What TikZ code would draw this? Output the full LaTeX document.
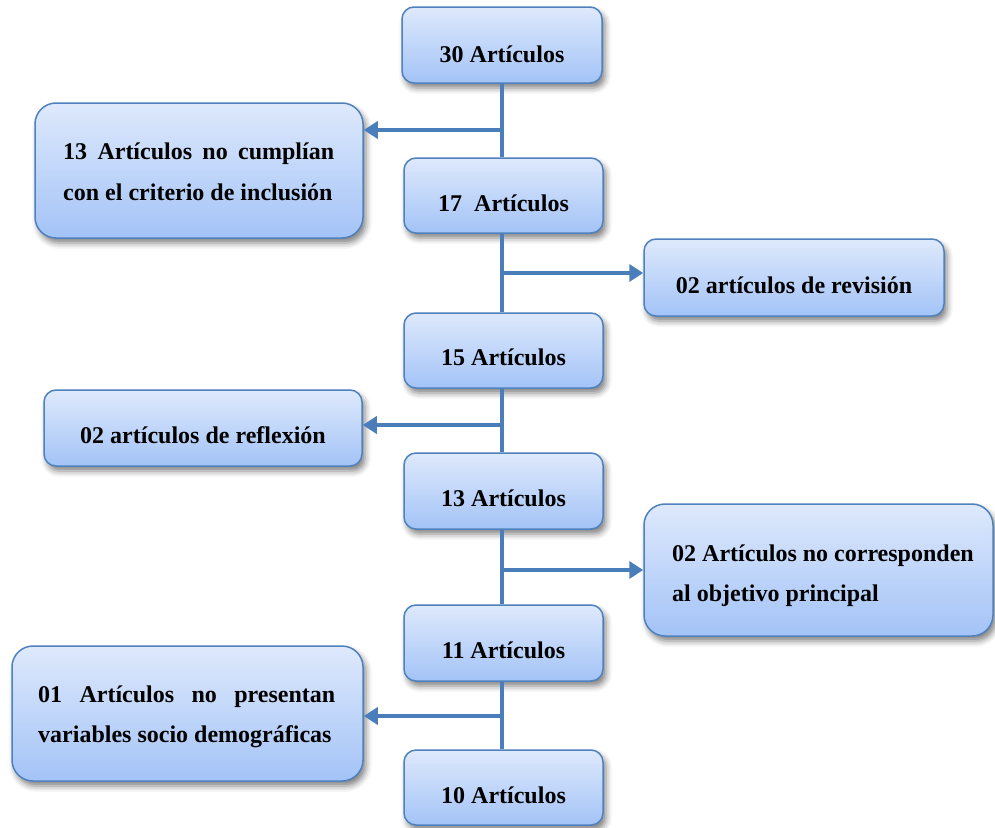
\documentclass[tikz,border=0pt]{standalone}
\usepackage{fontspec}
\setmainfont{Liberation Serif}
\usetikzlibrary{arrows.meta,shadows.blur}
\definecolor{lineblue}{HTML}{4A7EBB}
\definecolor{boxtop}{HTML}{DEE9FC}
\definecolor{boxbot}{HTML}{A3C3F7}
\definecolor{boxedge}{HTML}{4F81BD}
\begin{document}
\begin{tikzpicture}[x=1pt,y=-1pt,
  box/.style={draw=boxedge, line width=1.5pt, top color=boxtop, bottom color=boxbot,
    rounded corners=12pt, inner sep=0pt,
    blur shadow={shadow xshift=3pt, shadow yshift=-5pt, shadow blur radius=6pt, shadow opacity=50}},
  bigbox/.style={box, rounded corners=21pt},
  txt/.style={inner sep=0pt, font=\fontsize{24}{41}\selectfont\bfseries, anchor=base},
  ltxt/.style={txt, anchor=base west},
  trunk/.style={draw=lineblue, line width=4pt},
  arr/.style={draw=lineblue, line width=4pt, -{Triangle[length=14pt 0 0,width=17pt 0 0]}}
]
\useasboundingbox (0,0) rectangle (995,827);

% main column boxes
\node[box, minimum width=200pt, minimum height=76pt] (b30) at (502,45) {};
\node[box, minimum width=199pt, minimum height=75pt] (b17) at (503.5,195.5) {};
\node[box, minimum width=199pt, minimum height=75pt] (b15) at (503.5,350.5) {};
\node[box, minimum width=199pt, minimum height=76pt] (b13) at (503.5,491) {};
\node[box, minimum width=199pt, minimum height=76pt] (b11) at (503.5,643) {};
\node[box, minimum width=199pt, minimum height=75pt] (b10) at (503.5,787.5) {};

% side boxes
\node[bigbox, minimum width=328pt, minimum height=135pt] (bcrit) at (199,170.5) {};
\node[box, minimum width=300pt, minimum height=77pt] (brev) at (794,277.5) {};
\node[box, minimum width=318pt, minimum height=76pt] (bref) at (203,428) {};
\node[bigbox, minimum width=349pt, minimum height=132pt] (bobj) at (818.5,570) {};
\node[bigbox, minimum width=351pt, minimum height=135pt] (bsoc) at (187.5,713.5) {};

% texts
\node[txt] (t30) at (502,62) {30 Artículos};
\node[txt] (t17) at (503.5,211) {17\ \ Artículos};
\node[txt] (t15) at (503.5,365) {15 Artículos};
\node[txt] (t13) at (503.5,506) {13 Artículos};
\node[txt] (t11) at (503.5,658) {11 Artículos};
\node[txt] (t10) at (503.5,803) {10 Artículos};

\node[ltxt] (tcrit1) at (63,159) {\makebox[271pt][s]{13 Artículos no cumplían}};
\node[ltxt] (tcrit2) at (63,200) {con el criterio de inclusión};
\node[txt] (trev) at (794,293) {02 artículos de revisión};
\node[txt] (tref) at (203,443) {02 artículos de reflexión};
\node[ltxt] (tobj1) at (672,561) {02 Artículos no corresponden};
\node[ltxt] (tobj2) at (672,601) {al objetivo principal};
\node[ltxt] (tsoc1) at (38,702) {\makebox[297pt][s]{01 Artículos no presentan}};
\node[ltxt] (tsoc2) at (38,742) {variables socio demográficas};

% trunk
\coordinate (x0) at (502,0);
\draw[trunk] (b30.south -| x0) -- (b17.north -| x0);
\draw[trunk] (b17.south -| x0) -- (b15.north -| x0);
\draw[trunk] (b15.south -| x0) -- (b13.north -| x0);
\draw[trunk] (b13.south -| x0) -- (b11.north -| x0);
\draw[trunk] (b11.south -| x0) -- (b10.north -| x0);

% branch arrows
\coordinate (j1) at (502,130);
\coordinate (j2) at (502,273);
\coordinate (j3) at (502,425);
\coordinate (j4) at (502,570);
\coordinate (j5) at (502,716);
\draw[arr] (j1) -- (j1 -| bcrit.east);
\draw[arr] (j2) -- (j2 -| brev.west);
\draw[arr] (j3) -- (j3 -| bref.east);
\draw[arr] (j4) -- (j4 -| bobj.west);
\draw[arr] (j5) -- (j5 -| bsoc.east);
\end{tikzpicture}
\end{document}
